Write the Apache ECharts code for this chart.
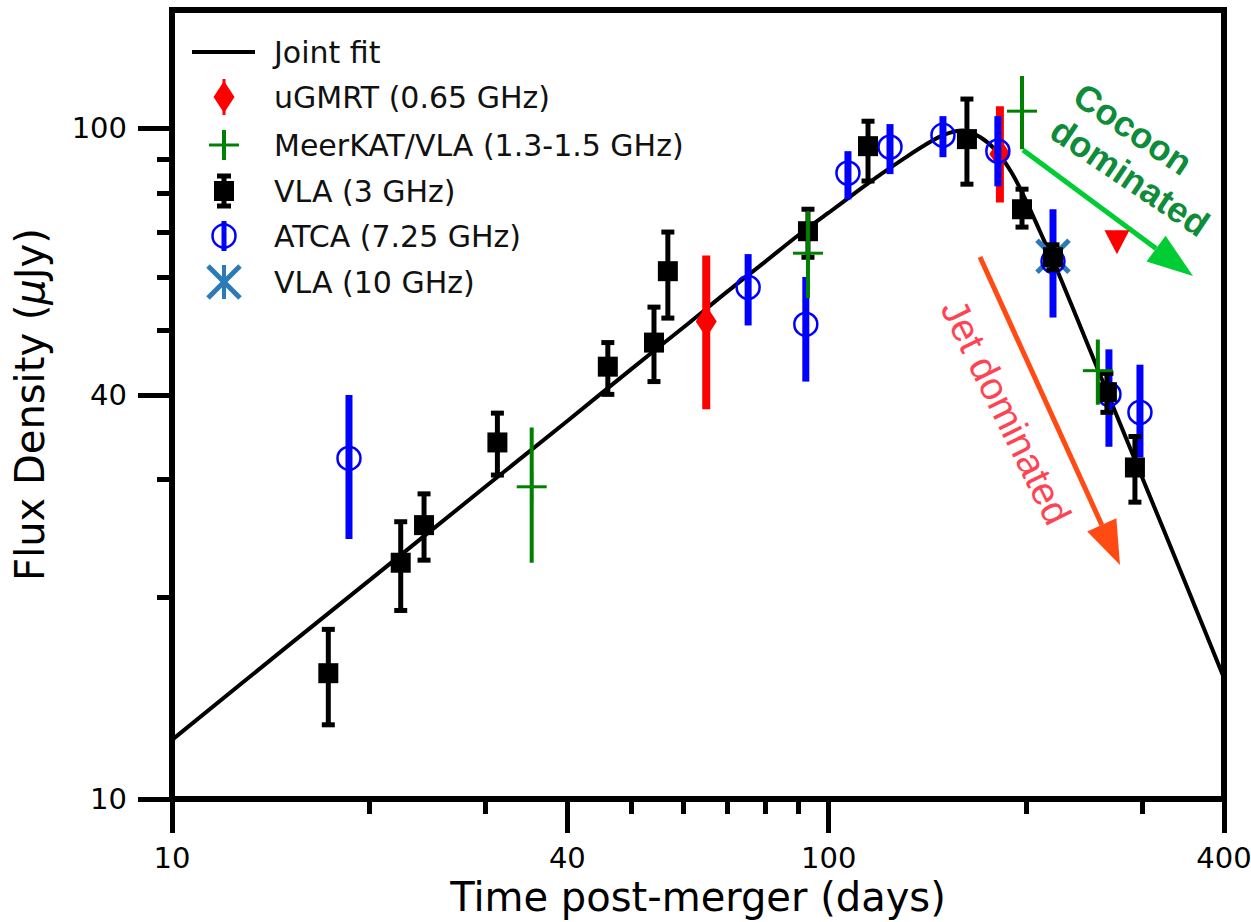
<!DOCTYPE html>
<html><head><meta charset="utf-8">
<script src="https://cdn.jsdelivr.net/npm/echarts@6/dist/echarts.min.js"></script>
<style>html,body{margin:0;padding:0;background:#fff}#c{width:1251px;height:922px}</style>
</head><body><div id="c"></div>
<script>
// ---------------- data ----------------
const xMajorTicks = [10, 40, 100, 400];
const xMinorTicks = [20, 30, 50, 60, 70, 80, 90, 200, 300];
const yMajorTicks = [10, 40, 100];
const yMinorTicks = [20, 30, 50, 60, 70, 80, 90];

// Joint fit curve
const fitDays = [10, 15, 20, 30, 40, 50, 60, 70, 80, 90, 100, 110, 120, 130, 140, 150, 160, 170, 180, 190, 200, 210, 220, 230, 240, 260, 280, 300, 350, 400];
const fitFlux = [12.25, 16.9, 21.2, 29.2, 36.6, 43.7, 50.4, 57.0, 63.2, 69.3, 74.8, 80.2, 85.3, 90.0, 94.3, 97.8, 99.2, 97.0, 92.5, 85.8, 77.8, 70.0, 63.2, 57.0, 51.5, 42.5, 35.6, 30.2, 20.9, 15.15];

// uGMRT (0.65 GHz)
const ugmrtDays = [65.1, 182.3];
const ugmrtFlux = [51.5, 91.5];
const ugmrtLo = [38.1, 77.5];
const ugmrtHi = [64.6, 107.8];
// uGMRT upper limit
const ugmrtLimDays = [274.8];
const ugmrtLimFlux = [67.6];

// MeerKAT/VLA (1.3-1.5 GHz)
const meerDays = [35.3, 93.0, 197.0, 257.0];
const meerFlux = [29.2, 65.1, 106.0, 43.5];
const meerLo = [22.5, 55.8, 93.0, 38.7];
const meerHi = [35.8, 75.2, 119.6, 48.4];

// VLA (3 GHz)
const vla3Days = [17.3, 22.3, 24.2, 31.3, 46.1, 54.2, 56.9, 93.0, 114.8, 162.4, 197.0, 219.6, 265.3, 292.7];
const vla3Flux = [15.4, 22.5, 25.6, 34.0, 44.1, 47.9, 61.2, 70.2, 94.0, 96.3, 75.7, 64.2, 40.4, 31.2];
const vla3Lo = [12.9, 19.1, 22.7, 30.4, 40.1, 41.9, 52.1, 64.2, 83.4, 82.5, 71.2, 61.5, 37.7, 27.7];
const vla3Hi = [17.9, 25.9, 28.5, 37.6, 47.9, 54.1, 70.0, 75.7, 102.4, 110.5, 81.1, 67.0, 43.1, 34.7];

// ATCA (7.25 GHz)
const atcaDays = [18.6, 75.4, 92.3, 107.0, 124.0, 149.3, 181.0, 219.6, 267.2, 297.9];
const atcaFlux = [32.2, 57.9, 51.0, 85.7, 93.7, 97.6, 92.4, 63.3, 40.1, 37.7];
const atcaLo = [24.4, 50.8, 41.9, 78.3, 85.4, 90.5, 81.9, 52.2, 33.5, 32.3];
const atcaHi = [40.0, 64.9, 60.0, 92.4, 101.4, 104.2, 104.2, 75.7, 46.8, 44.4];

// VLA (10 GHz)
const vla10Days = [219.6];
const vla10Flux = [64.4];
const vla10Lo = [62.5];
const vla10Hi = [66.5];

const legendLabels = ['Joint fit', 'uGMRT (0.65 GHz)', 'MeerKAT/VLA (1.3-1.5 GHz)', 'VLA (3 GHz)', 'ATCA (7.25 GHz)', 'VLA (10 GHz)'];

// ---------------- helpers ----------------
function rows(d, f, lo, hi) {
  return d.map((v, i) => lo ? [v, f[i], lo[i], hi[i]] : [v, f[i]]);
}
const C = {
  red: '#ff0000', green: '#008000', black: '#000000', blue: '#0000ff', steel: '#2c7bb6'
};
function markerShapes(kind, x, y) {
  const out = [];
  if (kind === 'square') {
    out.push({ type: 'rect', shape: { x: x - 10, y: y - 10, width: 20, height: 20 }, style: { fill: C.black } });
  } else if (kind === 'circle') {
    out.push({ type: 'circle', shape: { cx: x, cy: y, r: 11.5 }, style: { fill: 'none', stroke: C.blue, lineWidth: 2.5 } });
  } else if (kind === 'diamond') {
    out.push({ type: 'polygon', shape: { points: [[x, y - 16], [x + 10.5, y], [x, y + 16], [x - 10.5, y]] }, style: { fill: C.red } });
  } else if (kind === 'plus') {
    out.push({ type: 'line', shape: { x1: x - 15, y1: y, x2: x + 15, y2: y }, style: { stroke: C.green, lineWidth: 3 } });
    out.push({ type: 'line', shape: { x1: x, y1: y - 15, x2: x, y2: y + 15 }, style: { stroke: C.green, lineWidth: 3 } });
  } else if (kind === 'x') {
    out.push({ type: 'line', shape: { x1: x - 16, y1: y - 16, x2: x + 16, y2: y + 16 }, style: { stroke: C.steel, lineWidth: 5 } });
    out.push({ type: 'line', shape: { x1: x - 16, y1: y + 16, x2: x + 16, y2: y - 16 }, style: { stroke: C.steel, lineWidth: 5 } });
  } else if (kind === 'tridown') {
    out.push({ type: 'polygon', shape: { points: [[x - 12.5, y - 12], [x + 12.5, y - 12], [x, y + 12]] }, style: { fill: C.red } });
  }
  return out;
}
function errRender(kind, color, barW, capW) {
  return function (params, api) {
    const x = api.value(0), y = api.value(1);
    const p = api.coord([x, y]);
    const children = [];
    if (barW) {
      const a = api.coord([x, api.value(2)]);
      const b = api.coord([x, api.value(3)]);
      children.push({ type: 'line', shape: { x1: a[0], y1: a[1], x2: b[0], y2: b[1] }, style: { stroke: color, lineWidth: barW } });
      if (capW) {
        children.push({ type: 'line', shape: { x1: a[0] - capW / 2, y1: a[1], x2: a[0] + capW / 2, y2: a[1] }, style: { stroke: color, lineWidth: 5 } });
        children.push({ type: 'line', shape: { x1: b[0] - capW / 2, y1: b[1], x2: b[0] + capW / 2, y2: b[1] }, style: { stroke: color, lineWidth: 5 } });
      }
    }
    markerShapes(kind, p[0], p[1]).forEach(s => children.push(s));
    return { type: 'group', children: children };
  };
}

// ---------------- legend (graphic) ----------------
const LX = 224, TX = 274;
const rowY = [52, 97, 145, 191, 236, 282];
const legendFont = { fontSize: 30, fontFamily: 'DejaVu Sans', fill: '#111' };
const legendEls = [];
legendLabels.forEach((t, i) => {
  legendEls.push({ type: 'text', x: TX, y: rowY[i], style: Object.assign({ text: t, align: 'left', verticalAlign: 'middle', textAlign: 'left', textVerticalAlign: 'middle' }, legendFont) });
});
legendEls.push({ type: 'line', shape: { x1: 192, y1: rowY[0], x2: 255, y2: rowY[0] }, style: { stroke: '#000', lineWidth: 4 } });
markerShapes('diamond', LX, rowY[1]).forEach(s => legendEls.push(s));
legendEls.push({ type: 'line', shape: { x1: LX, y1: rowY[1] - 18, x2: LX, y2: rowY[1] + 18 }, style: { stroke: C.red, lineWidth: 3 } });
legendEls.push({ type: 'line', shape: { x1: LX, y1: rowY[2] - 15, x2: LX, y2: rowY[2] + 15 }, style: { stroke: C.green, lineWidth: 4 } });
markerShapes('plus', LX, rowY[2]).forEach(s => legendEls.push(s));
legendEls.push({ type: 'line', shape: { x1: LX, y1: rowY[3] - 15, x2: LX, y2: rowY[3] + 15 }, style: { stroke: '#000', lineWidth: 5 } });
legendEls.push({ type: 'line', shape: { x1: LX - 7, y1: rowY[3] - 15, x2: LX + 7, y2: rowY[3] - 15 }, style: { stroke: '#000', lineWidth: 5 } });
legendEls.push({ type: 'line', shape: { x1: LX - 7, y1: rowY[3] + 15, x2: LX + 7, y2: rowY[3] + 15 }, style: { stroke: '#000', lineWidth: 5 } });
markerShapes('square', LX, rowY[3]).forEach(s => legendEls.push(s));
legendEls.push({ type: 'line', shape: { x1: LX, y1: rowY[4] - 15, x2: LX, y2: rowY[4] + 15 }, style: { stroke: C.blue, lineWidth: 5 } });
markerShapes('circle', LX, rowY[4]).forEach(s => legendEls.push(s));
legendEls.push({ type: 'line', shape: { x1: LX, y1: rowY[5] - 17, x2: LX, y2: rowY[5] + 17 }, style: { stroke: C.steel, lineWidth: 4 } });
markerShapes('x', LX, rowY[5]).forEach(s => legendEls.push(s));

// ---------------- annotations (graphic) ----------------
function arrow(x0, y0, x1, y1, color, headLen, headW, lw) {
  const dx = x1 - x0, dy = y1 - y0, L = Math.sqrt(dx * dx + dy * dy);
  const ux = dx / L, uy = dy / L, nx = -uy, ny = ux;
  const bx = x1 - ux * headLen, by = y1 - uy * headLen;
  return [
    { type: 'line', shape: { x1: x0, y1: y0, x2: bx, y2: by }, style: { stroke: color, lineWidth: lw } },
    { type: 'polygon', shape: { points: [[x1, y1], [bx + nx * headW / 2, by + ny * headW / 2], [bx - nx * headW / 2, by - ny * headW / 2]] }, style: { fill: color } }
  ];
}
const annot = [];
arrow(1023, 150, 1193, 276, '#00cc33', 46, 32, 5).forEach(e => annot.push(e));
arrow(980, 257, 1120, 565, '#ff4a14', 44, 32, 5).forEach(e => annot.push(e));
function rotText(t, x, y, deg, font, color) {
  return { type: 'text', x: x, y: y, rotation: -deg * Math.PI / 180,
    style: { text: t, font: font, fill: color, align: 'center', verticalAlign: 'middle', textAlign: 'center', textVerticalAlign: 'middle' } };
}
annot.push(rotText('Cocoon', 1133, 129, 34, "bold 36px 'Liberation Sans'", '#0f8c3a'));
annot.push(rotText('dominated', 1130, 177, 34, "bold 36px 'Liberation Sans'", '#0f8c3a'));
annot.push(rotText('Jet dominated', 1006, 412, 63.8, "39px 'Liberation Sans'", '#ff4352'));

// ---------------- chart ----------------
const chart = echarts.init(document.getElementById('c'), null, { renderer: 'svg', width: 1251, height: 922 });
const FONT = 'DejaVu Sans';
const tickStyle = { color: '#000', width: 5 };
const option = {
  backgroundColor: '#fff',
  animation: false,
  grid: { left: 172, right: 27, top: 10, bottom: 123, show: true, borderColor: '#000', borderWidth: 6, backgroundColor: 'transparent', containLabel: false, outerBoundsMode: 'none' },
  xAxis: [
    {
      type: 'log', logBase: 10, min: 10, max: 400, position: 'bottom',
      axisLine: { show: false },
      splitLine: { show: false },
      axisTick: { show: true, inside: false, length: 34, lineStyle: tickStyle, customValues: xMajorTicks },
      axisLabel: { show: true, customValues: xMajorTicks, margin: 44, fontSize: 29, fontFamily: FONT, color: '#000', formatter: v => String(Math.round(v)) },
      name: 'Time post-merger (days)', nameLocation: 'middle', nameGap: 76,
      nameTextStyle: { fontSize: 40, fontFamily: FONT, color: '#000' }
    },
    {
      type: 'log', logBase: 10, min: 10, max: 400, position: 'bottom',
      axisLine: { show: false }, splitLine: { show: false },
      axisTick: { show: true, inside: false, length: 15, lineStyle: tickStyle, customValues: xMinorTicks },
      axisLabel: { show: false }
    }
  ],
  yAxis: [
    {
      type: 'log', logBase: 10, min: 10, max: 150, position: 'left',
      axisLine: { show: false }, splitLine: { show: false },
      axisTick: { show: true, inside: false, length: 34, lineStyle: tickStyle, customValues: yMajorTicks },
      axisLabel: { show: true, customValues: yMajorTicks, margin: 45, fontSize: 29, fontFamily: FONT, color: '#000', formatter: v => String(Math.round(v)) },
      name: 'Flux Density ({i|μ}Jy)', nameLocation: 'middle', nameGap: 122,
      nameTextStyle: { fontSize: 40, fontFamily: FONT, color: '#000', rich: { i: { fontSize: 40, fontFamily: FONT, fontStyle: 'italic', color: '#000' } } }
    },
    {
      type: 'log', logBase: 10, min: 10, max: 150, position: 'left',
      axisLine: { show: false }, splitLine: { show: false },
      axisTick: { show: true, inside: false, length: 15, lineStyle: tickStyle, customValues: yMinorTicks },
      axisLabel: { show: false }
    }
  ],
  series: [
    { name: 'Joint fit', type: 'line', data: rows(fitDays, fitFlux), showSymbol: false, smooth: 0.35, lineStyle: { color: '#000', width: 4 }, z: 2 },
    { name: 'uGMRT (0.65 GHz)', type: 'custom', data: rows(ugmrtDays, ugmrtFlux, ugmrtLo, ugmrtHi), encode: { x: 0, y: 1 }, renderItem: errRender('diamond', C.red, 8, 0), z: 3 },
    { name: 'VLA (10 GHz)', type: 'custom', data: rows(vla10Days, vla10Flux, vla10Lo, vla10Hi), encode: { x: 0, y: 1 }, renderItem: errRender('x', C.steel, 4, 0), z: 3 },
    { name: 'ATCA (7.25 GHz)', type: 'custom', data: rows(atcaDays, atcaFlux, atcaLo, atcaHi), encode: { x: 0, y: 1 }, renderItem: errRender('circle', C.blue, 7, 0), z: 3 },
    { name: 'VLA (3 GHz)', type: 'custom', data: rows(vla3Days, vla3Flux, vla3Lo, vla3Hi), encode: { x: 0, y: 1 }, renderItem: errRender('square', C.black, 5, 13), z: 3 },
    { name: 'MeerKAT/VLA (1.3-1.5 GHz)', type: 'custom', data: rows(meerDays, meerFlux, meerLo, meerHi), encode: { x: 0, y: 1 }, renderItem: errRender('plus', C.green, 4, 0), z: 3 },
    { name: 'uGMRT upper limit', type: 'custom', data: rows(ugmrtLimDays, ugmrtLimFlux), encode: { x: 0, y: 1 }, renderItem: errRender('tridown', C.red, 0, 0), z: 3 }
  ],
  graphic: [
    { type: 'group', z: 100, children: legendEls },
    { type: 'group', z: 100, children: annot }
  ]
};
chart.setOption(option);
</script>
</body></html>
